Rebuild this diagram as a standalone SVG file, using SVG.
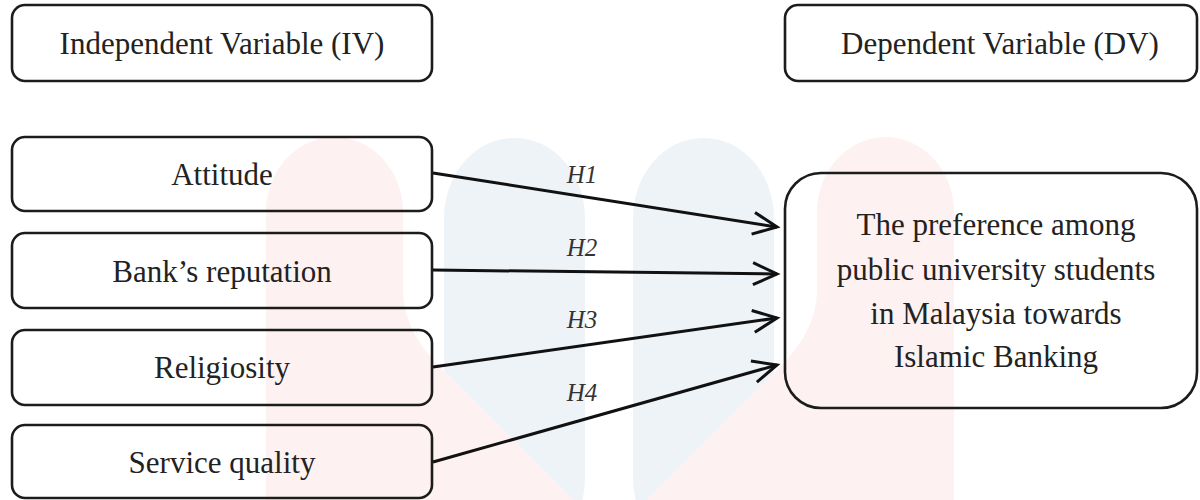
<svg xmlns="http://www.w3.org/2000/svg" width="1200" height="500" viewBox="0 0 1200 500">
  <style>
    .box { fill: none; stroke: #1c1c1c; stroke-width: 2.6; }
    .lbl { font-family: "Liberation Serif", "Times New Roman", serif; font-size: 31px; fill: #222; text-anchor: middle; }
    .hyp { font-family: "Liberation Serif", "Times New Roman", serif; font-size: 25px; font-style: italic; fill: #333; text-anchor: middle; }
    .link { stroke: #111; stroke-width: 3; fill: none; marker-end: url(#head); }
    .wm-pink { fill: #fdf1f1; }
    .wm-blue { fill: #eef3f8; }
  </style>
  <defs>
    <marker id="head" markerUnits="userSpaceOnUse" markerWidth="30" markerHeight="30" viewBox="-26 -14 30 28" refX="0" refY="0" orient="auto">
      <path d="M-24,-11 L0,0 L-24,11" fill="none" stroke="#111" stroke-width="3" stroke-linejoin="miter"/>
    </marker>
  </defs>

  <rect width="1200" height="500" fill="#ffffff"/>

  <!-- faint background emblem -->
  <g id="emblem">
    <rect class="wm-blue" x="444" y="138" width="141" height="420" rx="70" ry="80"/>
    <rect class="wm-blue" x="633" y="138" width="141" height="420" rx="70" ry="80"/>
    <path class="wm-pink" d="M266,500 L266,212 A68.5,75 0 0 1 403,212 L403,290 Q403,330 440,367 L573,500 Z"/>
    <path class="wm-pink" d="M954,500 L954,212 A68.5,75 0 0 0 817,212 L817,290 Q817,330 780,367 L647,500 Z"/>
  </g>

  <!-- section headers -->
  <g id="iv-header">
    <rect class="box" x="12" y="5" width="420" height="76" rx="13"/>
    <text class="lbl" x="222" y="54">Independent Variable (IV)</text>
  </g>
  <g id="dv-header">
    <rect class="box" x="785" y="5" width="412" height="76" rx="13"/>
    <text class="lbl" x="1000" y="54">Dependent Variable (DV)</text>
  </g>

  <!-- independent variables -->
  <g id="attitude">
    <rect class="box" x="12" y="137" width="420" height="74" rx="13"/>
    <text class="lbl" x="222" y="185">Attitude</text>
  </g>
  <g id="reputation">
    <rect class="box" x="12" y="233" width="420" height="75" rx="13"/>
    <text class="lbl" x="222" y="282">Bank’s reputation</text>
  </g>
  <g id="religiosity">
    <rect class="box" x="12" y="330" width="420" height="75" rx="13"/>
    <text class="lbl" x="222" y="378">Religiosity</text>
  </g>
  <g id="service-quality">
    <rect class="box" x="12" y="425" width="420" height="73" rx="13"/>
    <text class="lbl" x="222" y="473">Service quality</text>
  </g>

  <!-- dependent variable -->
  <g id="preference">
    <rect class="box" x="785" y="173" width="412" height="235" rx="36"/>
    <text class="lbl" x="996" y="235">The preference among</text>
    <text class="lbl" x="996" y="280">public university students</text>
    <text class="lbl" x="996" y="324">in Malaysia towards</text>
    <text class="lbl" x="996" y="367">Islamic Banking</text>
  </g>

  <!-- hypothesised paths -->
  <g id="connectors">
    <line class="link" x1="433" y1="173" x2="777" y2="227"/>
    <line class="link" x1="433" y1="270" x2="777" y2="274"/>
    <line class="link" x1="433" y1="367" x2="777" y2="318"/>
    <line class="link" x1="433" y1="462" x2="777" y2="365"/>
    <text class="hyp" x="582" y="183">H1</text>
    <text class="hyp" x="582" y="256">H2</text>
    <text class="hyp" x="582" y="328">H3</text>
    <text class="hyp" x="582" y="401">H4</text>
  </g>
</svg>
